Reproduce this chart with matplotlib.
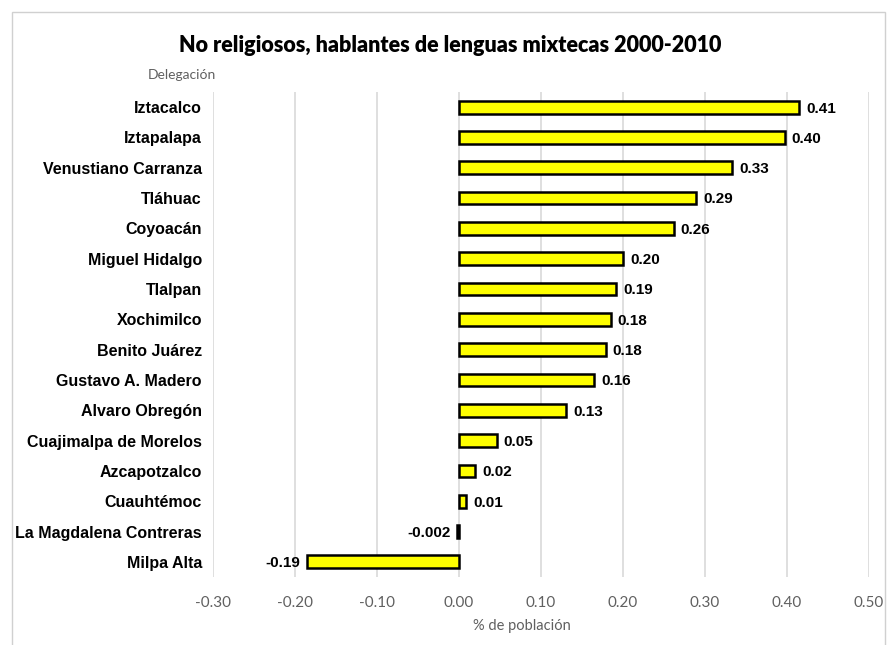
import matplotlib
matplotlib.use("Agg")
import matplotlib.pyplot as plt
from matplotlib.patches import Rectangle
import numpy as np

# data
delegaciones = [
    'Iztacalco', 'Iztapalapa', 'Venustiano Carranza', 'Tláhuac', 'Coyoacán',
    'Miguel Hidalgo', 'Tlalpan', 'Xochimilco', 'Benito Juárez',
    'Gustavo A. Madero', 'Alvaro Obregón', 'Cuajimalpa de Morelos',
    'Azcapotzalco', 'Cuauhtémoc', 'La Magdalena Contreras', 'Milpa Alta',
]
valores = [0.415, 0.397, 0.333, 0.289, 0.262, 0.200, 0.192, 0.185, 0.179,
           0.165, 0.131, 0.046, 0.020, 0.009, -0.002, -0.185]
etiquetas = ['0.41', '0.40', '0.33', '0.29', '0.26', '0.20', '0.19', '0.18',
             '0.18', '0.16', '0.13', '0.05', '0.02', '0.01', '-0.002', '-0.19']
xticks = [-0.30, -0.20, -0.10, 0.00, 0.10, 0.20, 0.30, 0.40, 0.50]

calibri = ['Lato', 'DejaVu Sans']
arial = ['Liberation Sans', 'DejaVu Sans']

fig = plt.figure(figsize=(8.94, 6.45), dpi=100)
fig.patches.append(Rectangle((12 / 894, -5 / 645), 873 / 894, 638 / 645,
                             transform=fig.transFigure, fill=False,
                             edgecolor='#d0d0d0', linewidth=1))
ax = fig.add_axes([213 / 894, 1 - 577 / 645, 656 / 894, 485 / 645])

y = np.arange(len(delegaciones))
ax.barh(y, valores, height=0.42, color='#ffff00', edgecolor='black',
        linewidth=1.8, zorder=3)
ax.set_ylim(len(delegaciones) - 0.5, -0.5)
ax.set_xlim(-0.30, 0.50)
ax.set_xticks(xticks)
ax.set_xticklabels([f'{t:.2f}' for t in xticks], family=calibri,
                   fontsize=11, color='#606060')
ax.set_yticks(y)
ax.set_yticklabels(delegaciones, family=arial, fontsize=11.5,
                   fontweight='bold', color='black')
ax.tick_params(length=0, axis='y', pad=8)
ax.tick_params(length=0, axis='x', pad=14)
ax.grid(axis='x', color='#d9d9d9', linewidth=1.2, zorder=0)
for s in ax.spines.values():
    s.set_visible(False)

for yi, v, lab in zip(y, valores, etiquetas):
    if v >= 0:
        ax.annotate(lab, (v, yi), xytext=(5, -1), textcoords='offset points',
                    ha='left', va='center', family=arial, fontsize=11,
                    fontweight='bold')
    else:
        ax.annotate(lab, (v, yi), xytext=(-5, -1), textcoords='offset points',
                    ha='right', va='center', family=arial, fontsize=11,
                    fontweight='bold')

fig.text(522 / 894, 1 - 626 / 645, '% de población', ha='center',
         va='center', family=calibri, fontsize=10.5, color='#606060')
fig.text(450 / 894, 1 - 45 / 645,
         'No religiosos, hablantes de lenguas mixtecas 2000-2010',
         ha='center', va='center', family=calibri, fontsize=15.5,
         fontweight='heavy')
fig.text(148 / 894, 1 - 75 / 645, 'Delegación', ha='left', va='center',
         family=calibri, fontsize=10, color='#606060')

fig.savefig('out.png', dpi=100)
